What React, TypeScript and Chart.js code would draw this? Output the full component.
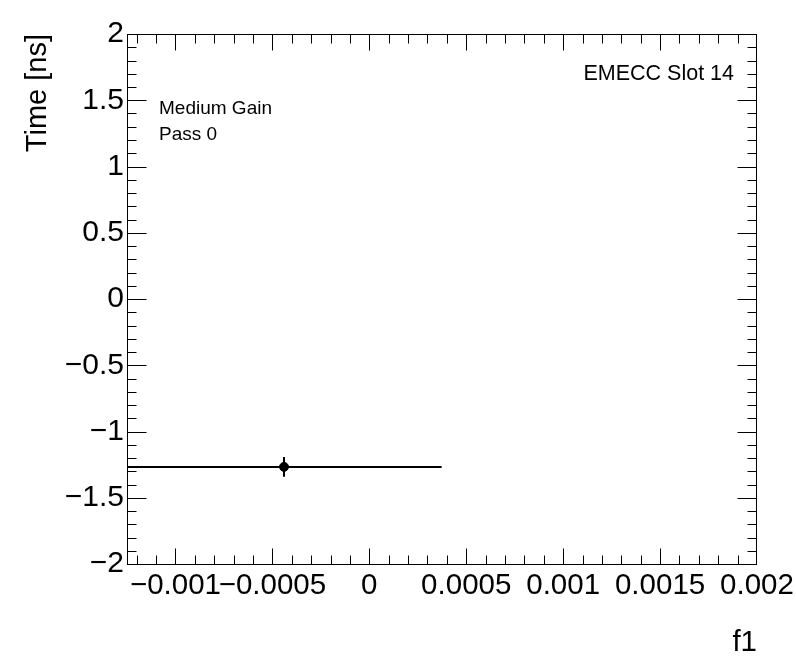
import React, { useEffect, useRef } from "react";
import { Chart, registerables } from "chart.js";

Chart.register(...registerables);

// ---- data ----
const pointX = [-0.00044];
const pointY = [-1.267];
const errX = [0.000813];
const errY = [0.075];

const xTicks = [-0.001, -0.0005, 0, 0.0005, 0.001, 0.0015, 0.002];
const xTickLabels = ["\u22120.001", "\u22120.0005", "0", "0.0005", "0.001", "0.0015", "0.002"];
const yTicks = [-2, -1.5, -1, -0.5, 0, 0.5, 1, 1.5, 2];
const yTickLabels = ["\u22122", "\u22121.5", "\u22121", "\u22120.5", "0", "0.5", "1", "1.5", "2"];

const xRange = [-0.00125, 0.002];
const yRange = [-2, 2];
const xMinorStep = 0.0001;
const yMinorStep = 0.1;

const xTitle = "f1";
const yTitle = "Time [ns]";
const labelsLeft = ["Medium Gain", "Pass 0"];
const labelRight = "EMECC Slot 14";

const FONT = "'Liberation Sans', Arial, Helvetica, sans-serif";

const rootPlugin = {
  id: "rootStyle",
  beforeDatasetsDraw(chart: any) {
    const { ctx, chartArea } = chart;
    const xs = chart.scales.x;
    const ys = chart.scales.y;
    ctx.save();
    ctx.beginPath();
    ctx.rect(chartArea.left, chartArea.top, chartArea.right - chartArea.left, chartArea.bottom - chartArea.top);
    ctx.clip();
    ctx.strokeStyle = "#000";
    ctx.lineWidth = 2;
    for (let i = 0; i < pointX.length; i++) {
      const px = xs.getPixelForValue(pointX[i]);
      const py = ys.getPixelForValue(pointY[i]);
      const x0 = xs.getPixelForValue(pointX[i] - errX[i]);
      const x1 = xs.getPixelForValue(pointX[i] + errX[i]);
      const y0 = ys.getPixelForValue(pointY[i] - errY[i]);
      const y1 = ys.getPixelForValue(pointY[i] + errY[i]);
      ctx.beginPath();
      ctx.moveTo(x0, py);
      ctx.lineTo(x1, py);
      ctx.moveTo(px, y0);
      ctx.lineTo(px, y1);
      ctx.stroke();
    }
    ctx.restore();
  },
  afterDraw(chart: any) {
    const { ctx, chartArea } = chart;
    const xs = chart.scales.x;
    const ys = chart.scales.y;
    const L = chartArea.left, R = chartArea.right, T = chartArea.top, B = chartArea.bottom;
    const fl = Math.round(L) + 0.5;
    const ft = Math.round(T) + 0.5;
    const fr = fl + Math.round(R - L) - 1;
    const fb = ft + Math.round(B - T);
    ctx.save();
    ctx.strokeStyle = "#000";
    ctx.lineWidth = 1;
    // frame
    ctx.strokeRect(fl, ft, fr - fl, fb - ft);
    ctx.beginPath();
    const eps = 1e-9;
    const xStart = Math.ceil((xRange[0] - eps) / xMinorStep);
    const xEnd = Math.floor((xRange[1] + eps) / xMinorStep);
    for (let k = xStart; k <= xEnd; k++) {
      const v = k * xMinorStep;
      const major = k % 5 === 0;
      const len = major ? 16 : 9;
      const px = Math.min(fr, Math.max(fl, Math.round(xs.getPixelForValue(v)) + 0.5));
      ctx.moveTo(px, fb);
      ctx.lineTo(px, fb - len);
      ctx.moveTo(px, ft);
      ctx.lineTo(px, ft + len);
    }
    const yStart = Math.ceil((yRange[0] - eps) / yMinorStep);
    const yEnd = Math.floor((yRange[1] + eps) / yMinorStep);
    for (let k = yStart; k <= yEnd; k++) {
      const v = k * yMinorStep;
      const major = k % 5 === 0;
      const len = major ? 19 : 9;
      const py = Math.min(fb, Math.max(ft, Math.round(ys.getPixelForValue(v)) + 0.5));
      ctx.moveTo(fl, py);
      ctx.lineTo(fl + len, py);
      ctx.moveTo(fr, py);
      ctx.lineTo(fr - len, py);
    }
    ctx.stroke();

    // text annotations
    ctx.fillStyle = "#000";
    ctx.textBaseline = "alphabetic";
    ctx.font = `19px ${FONT}`;
    ctx.textAlign = "left";
    ctx.fillText(labelsLeft[0], 159, 114);
    ctx.fillText(labelsLeft[1], 159, 140);
    ctx.font = `21.5px ${FONT}`;
    ctx.textAlign = "right";
    ctx.fillText(labelRight, 734, 80);

    // axis titles
    ctx.font = `29.5px ${FONT}`;
    ctx.textAlign = "right";
    ctx.fillText(xTitle, R, 651);
    ctx.save();
    ctx.translate(46, T);
    ctx.rotate(-Math.PI / 2);
    ctx.font = `29px ${FONT}`;
    ctx.textAlign = "right";
    ctx.fillText(yTitle, 0, 0);
    ctx.restore();
    ctx.restore();
  },
};

export default function App() {
  const ref = useRef<HTMLCanvasElement | null>(null);
  useEffect(() => {
    if (!ref.current) return;
    const chart = new Chart(ref.current, {
      type: "scatter",
      data: {
        datasets: [
          {
            data: pointX.map((x, i) => ({ x, y: pointY[i] })),
            backgroundColor: "#000",
            borderColor: "#000",
            pointRadius: 4.5,
            pointHoverRadius: 4.5,
            showLine: false,
          },
        ],
      },
      options: {
        responsive: false,
        animation: false,
        events: [],
        layout: { padding: { left: 0, top: 34, right: 39, bottom: 0 } },
        plugins: { legend: { display: false }, tooltip: { enabled: false }, title: { display: false } },
        scales: {
          x: {
            type: "linear",
            min: xRange[0],
            max: xRange[1],
            grid: { display: false, drawTicks: false },
            border: { display: false },
            afterFit: (s: any) => {
              s.height = 108;
              s.paddingLeft = 0;
              s.paddingRight = 0;
            },
            afterBuildTicks: (s: any) => {
              s.ticks = xTicks.map((v) => ({ value: v }));
            },
            ticks: {
              autoSkip: false,
              maxRotation: 0,
              minRotation: 0,
              padding: 4,
              color: "#000",
              font: { family: FONT, size: 29.5 },
              callback: (v: any) => {
                const i = xTicks.findIndex((t) => Math.abs(t - Number(v)) < 1e-9);
                return i >= 0 ? xTickLabels[i] : "";
              },
            },
          },
          y: {
            type: "linear",
            min: yRange[0],
            max: yRange[1],
            grid: { display: false, drawTicks: false },
            border: { display: false },
            afterFit: (s: any) => {
              s.width = 127;
              s.paddingTop = 0;
              s.paddingBottom = 0;
            },
            afterBuildTicks: (s: any) => {
              s.ticks = yTicks.map((v) => ({ value: v }));
            },
            ticks: {
              autoSkip: false,
              padding: 3,
              color: "#000",
              font: { family: FONT, size: 30 },
              callback: (v: any) => {
                const i = yTicks.findIndex((t) => Math.abs(t - Number(v)) < 1e-9);
                return i >= 0 ? yTickLabels[i] : "";
              },
            },
          },
        },
      },
      plugins: [rootPlugin],
    });
    return () => chart.destroy();
  }, []);
  return (
    <div style={{ position: "absolute", left: 0, top: 0, width: 796, height: 672, background: "#fff" }}>
      <canvas ref={ref} width={796} height={672} style={{ display: "block" }} />
    </div>
  );
}
